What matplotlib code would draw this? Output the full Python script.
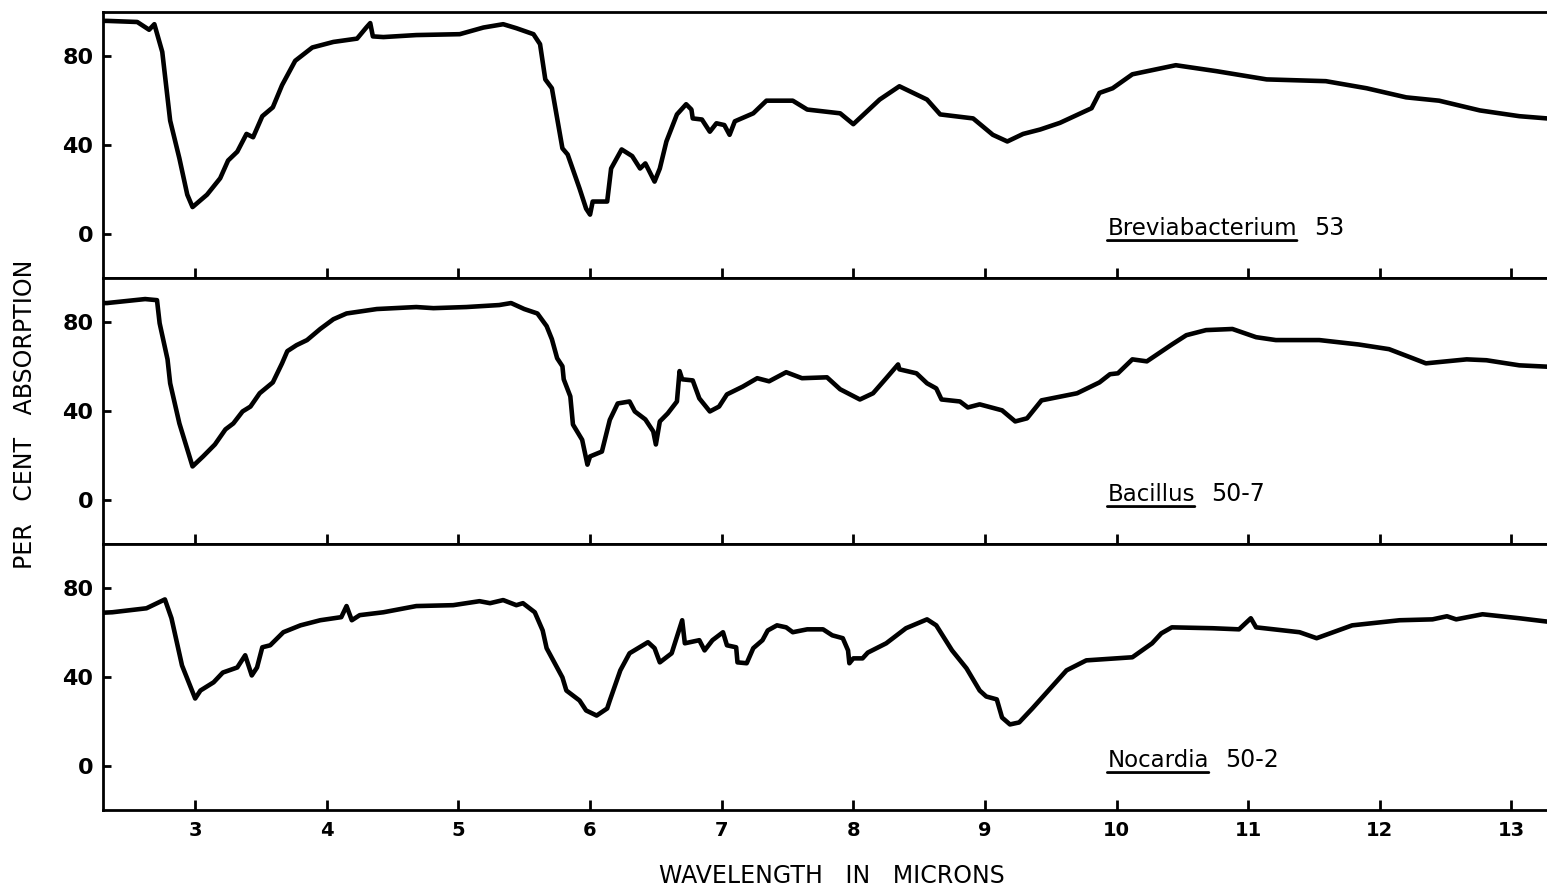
import numpy as np
import matplotlib
matplotlib.use("Agg")
import matplotlib.pyplot as plt

# (wavelength in microns, per cent absorption)
breviabacterium_53 = [
    (2.30, 96), (2.33, 96), (2.56, 95.5), (2.65, 92), (2.69, 94.5), (2.75, 82),
    (2.81, 51), (2.88, 34), (2.94, 17.6), (2.98, 12), (3.09, 17.6), (3.19, 25),
    (3.25, 33), (3.32, 37), (3.39, 45), (3.44, 43.5), (3.51, 53), (3.59, 57),
    (3.66, 67), (3.76, 78), (3.89, 84), (4.05, 86.5), (4.23, 88), (4.30, 93),
    (4.33, 95), (4.35, 89), (4.43, 88.7), (4.68, 89.6), (5.01, 90), (5.19, 93),
    (5.34, 94.5), (5.44, 92.7), (5.57, 90), (5.62, 85.5), (5.66, 69.6), (5.71, 65.6),
    (5.79, 38.5), (5.83, 35.7), (5.92, 20.4), (5.97, 11.3), (6.00, 8.6), (6.02, 14.5),
    (6.13, 14.5), (6.16, 29.4), (6.24, 38), (6.32, 35), (6.38, 29.4), (6.42, 31.7),
    (6.49, 23.5), (6.53, 29.4), (6.58, 41.6), (6.66, 53.8), (6.73, 58.4), (6.77, 56),
    (6.78, 52), (6.85, 51.5), (6.91, 46), (6.96, 49.8), (7.02, 49), (7.06, 44.6),
    (7.10, 50.7), (7.24, 54.3), (7.34, 60), (7.54, 60), (7.65, 56), (7.90, 54.3),
    (8.00, 49.4), (8.20, 60.5), (8.35, 66.5), (8.56, 60.5), (8.66, 53.8), (8.91, 52),
    (9.06, 44.6), (9.17, 41.6), (9.29, 45), (9.42, 47), (9.57, 50), (9.81, 56.6),
    (9.87, 63.5), (9.97, 65.6), (10.12, 71.9), (10.45, 76), (10.76, 73.3), (11.14, 69.6),
    (11.59, 68.8), (11.90, 65.6), (12.20, 61.5), (12.45, 60), (12.76, 55.6), (13.06, 53),
    (13.27, 52),
]

bacillus_50_7 = [
    (2.30, 88.7), (2.33, 88.7), (2.62, 90.5), (2.71, 90), (2.73, 79.6), (2.79, 63.3),
    (2.81, 52.5), (2.88, 34.4), (2.98, 15), (3.06, 19.5), (3.15, 24.9), (3.23, 31.7),
    (3.29, 34.4), (3.36, 39.8), (3.42, 42), (3.49, 48), (3.59, 52.9), (3.66, 61.5),
    (3.70, 67), (3.77, 69.7), (3.85, 72), (3.95, 77), (4.05, 81.4), (4.15, 84),
    (4.38, 86), (4.68, 86.9), (4.81, 86.4), (5.06, 86.9), (5.31, 87.8), (5.40, 88.7),
    (5.50, 86), (5.60, 84), (5.67, 78.3), (5.71, 72.4), (5.75, 63.8), (5.79, 60.2),
    (5.80, 54.3), (5.85, 46.6), (5.87, 33.9), (5.94, 27), (5.98, 15.8), (6.00, 19.5),
    (6.09, 21.7), (6.15, 36), (6.21, 43.4), (6.30, 44.3), (6.34, 39.8), (6.42, 36.2),
    (6.48, 30.8), (6.50, 24.9), (6.53, 35.3), (6.59, 38.9), (6.66, 44.3), (6.68, 58),
    (6.70, 54.3), (6.78, 53.8), (6.83, 45.7), (6.91, 39.8), (6.98, 42), (7.04, 47.5),
    (7.16, 51), (7.27, 54.8), (7.36, 53.4), (7.49, 57.5), (7.61, 54.8), (7.80, 55.2),
    (7.90, 49.8), (8.05, 45.2), (8.15, 48), (8.25, 54.8), (8.34, 61), (8.35, 58.8),
    (8.48, 57), (8.56, 52.5), (8.63, 50.2), (8.67, 45.2), (8.81, 44.3), (8.87, 41.6),
    (8.96, 43), (9.13, 40.3), (9.23, 35.3), (9.32, 36.7), (9.43, 44.8), (9.70, 48),
    (9.87, 52.9), (9.95, 56.6), (10.01, 57), (10.12, 63.3), (10.23, 62.4), (10.42, 70),
    (10.53, 74.2), (10.68, 76.5), (10.88, 77), (11.06, 73.3), (11.21, 72), (11.54, 72),
    (11.84, 70), (12.07, 67.9), (12.25, 63.8), (12.35, 61.5), (12.66, 63.3), (12.81, 62.9),
    (13.06, 60.6), (13.27, 60),
]

nocardia_50_2 = [
    (2.30, 69), (2.37, 69.2), (2.63, 71), (2.77, 75), (2.82, 66.5), (2.90, 45.2),
    (3.00, 30.3), (3.04, 33.9), (3.14, 37.6), (3.21, 42), (3.32, 44.3), (3.38, 49.8),
    (3.43, 40.7), (3.47, 44.3), (3.51, 53.4), (3.57, 54.3), (3.67, 60.2), (3.80, 63.3),
    (3.95, 65.6), (4.11, 67), (4.15, 72), (4.19, 65.6), (4.25, 67.9), (4.43, 69.2),
    (4.68, 72), (4.96, 72.4), (5.16, 74.2), (5.24, 73.3), (5.34, 74.7), (5.44, 72.4),
    (5.49, 73.3), (5.58, 69.2), (5.64, 61), (5.67, 53), (5.72, 47.5), (5.79, 39.8),
    (5.82, 33.9), (5.92, 29.4), (5.97, 24.9), (6.05, 22.6), (6.13, 25.8), (6.15, 29.4),
    (6.23, 43), (6.30, 50.7), (6.44, 55.7), (6.49, 53), (6.53, 46.6), (6.62, 50.7),
    (6.70, 65.6), (6.72, 55.2), (6.83, 56.6), (6.87, 52), (6.93, 56.6), (7.01, 60.2),
    (7.04, 54.3), (7.11, 53.4), (7.12, 46.6), (7.19, 46.2), (7.24, 53), (7.31, 56.6),
    (7.35, 61), (7.42, 63.3), (7.49, 62.4), (7.54, 60.2), (7.65, 61.5), (7.77, 61.5),
    (7.84, 58.8), (7.92, 57.5), (7.96, 52), (7.97, 46.2), (8.00, 48.4), (8.07, 48.4),
    (8.11, 51), (8.25, 55.2), (8.40, 62), (8.56, 66), (8.63, 63.3), (8.75, 52),
    (8.86, 43.9), (8.96, 33.9), (9.01, 31.2), (9.09, 29.9), (9.13, 21.7), (9.19, 18.6),
    (9.26, 19.5), (9.36, 25.8), (9.62, 43), (9.77, 47.5), (10.12, 48.9), (10.27, 55.2),
    (10.34, 59.7), (10.42, 62.4), (10.73, 62), (10.93, 61.5), (11.02, 66.5), (11.06, 62.4),
    (11.39, 60.2), (11.52, 57.5), (11.79, 63.3), (12.15, 65.6), (12.40, 66), (12.51, 67.4),
    (12.58, 66), (12.78, 68.3), (13.06, 66.5), (13.27, 65),
]

spectra = [breviabacterium_53, bacillus_50_7, nocardia_50_2]
genus_names = ["Breviabacterium", "Bacillus", "Nocardia"]
strain_ids = ["53", "50-7", "50-2"]

x_ticks = [3, 4, 5, 6, 7, 8, 9, 10, 11, 12, 13]
y_ticks = [0, 40, 80]

plt.rcParams['font.family'] = ['DejaVu Sans']

fig, axes = plt.subplots(3, 1, sharex=True, figsize=(15.47, 8.90), dpi=100)
fig.subplots_adjust(left=0.0666, right=1.0, top=0.9865, bottom=0.0899, hspace=0)

for ax, data, genus, strain in zip(axes, spectra, genus_names, strain_ids):
    pts = np.array(data)
    ax.plot(pts[:, 0], pts[:, 1], color='black', lw=3.3, solid_joinstyle='round',
            solid_capstyle='round')
    ax.set_xlim(2.30, 13.27)
    ax.set_ylim(-20, 100)
    ax.set_yticks(y_ticks)
    ax.set_xticks(x_ticks)
    ax.tick_params(axis='both', direction='in', width=2, colors='black')
    ax.tick_params(axis='x', length=7, labelsize=14, pad=8)
    ax.tick_params(axis='y', length=6, labelsize=16, pad=7)
    for lab in ax.get_yticklabels() + ax.get_xticklabels():
        lab.set_fontweight('bold')
    ax.spines['right'].set_visible(False)
    for side in ['left', 'bottom', 'top']:
        ax.spines[side].set_linewidth(2)

    # genus name underlined, strain number after it
    g = ax.text(9.93, 2.5, genus, fontsize=16.5, va='center', ha='left', fontweight='medium')
    ax.annotate('', xy=(1.0, -0.04), xycoords=g, xytext=(0.0, -0.04), textcoords=g,
                arrowprops=dict(arrowstyle='-', lw=2, color='black',
                                shrinkA=0, shrinkB=0))
    ax.annotate(strain, xy=(1.0, 0.5), xycoords=g, xytext=(12, 0),
                textcoords='offset points', fontsize=17, va='center', ha='left',
                fontweight='medium')

for ax in axes[:-1]:
    ax.tick_params(axis='x', labelbottom=False)

fig.text(0.016, 0.535, "PER   CENT   ABSORPTION", rotation=90, ha='center', va='center',
         fontsize=17, fontweight='medium')
fig.text(0.538, 0.016, "WAVELENGTH   IN   MICRONS", ha='center', va='center',
         fontsize=17, fontweight='medium')

fig.savefig("out.png", dpi=100)
